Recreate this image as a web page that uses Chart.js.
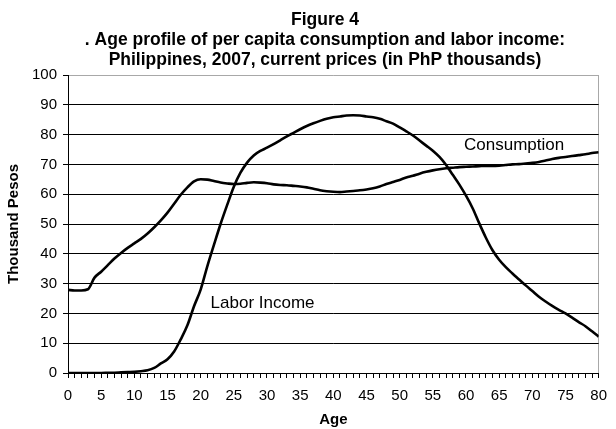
<!DOCTYPE html>
<html>
<head>
<meta charset="utf-8">
<script src="https://cdn.jsdelivr.net/npm/chart.js@4.4.0/dist/chart.umd.min.js"></script>
<style>
    html, body { margin: 0; padding: 0; background: #fff; }
    #wrap { width: 616px; height: 429px; }
</style>
</head>
<body>
<div id="wrap"><canvas id="chart" width="616" height="429"></canvas></div>
<script>
// Age 0..80
const ages = [];
for (let a = 0; a <= 80; a++) ages.push(a);

const consumption = [
    27.9, 27.7, 27.7, 28.1, 32.0, 34.0, 36.2, 38.4, 40.3, 42.0,
    43.5, 45.0, 46.8, 48.9, 51.2, 53.8, 56.8, 59.8, 62.3, 64.3,
    65.0, 64.9, 64.4, 63.9, 63.6, 63.4, 63.5, 63.8, 64.0, 63.9,
    63.7, 63.3, 63.1, 63.0, 62.8, 62.6, 62.3, 61.8, 61.3, 61.0,
    60.8, 60.7, 60.9, 61.1, 61.3, 61.6, 62.0, 62.6, 63.4, 64.1,
    64.8, 65.6, 66.2, 66.9, 67.5, 68.0, 68.4, 68.7, 68.9, 69.1,
    69.2, 69.3, 69.4, 69.5, 69.5, 69.6, 69.8, 70.0, 70.1, 70.3,
    70.5, 70.8, 71.3, 71.8, 72.2, 72.5, 72.8, 73.1, 73.4, 73.8,
    74.1
];

const laborIncome = [
    0.0, 0.0, 0.0, 0.0, 0.0, 0.0, 0.05, 0.1, 0.2, 0.3,
    0.4, 0.6, 0.9, 1.7, 3.2, 4.6, 7.2, 11.3, 16.0, 22.4,
    28.0, 35.8, 43.0, 50.0, 56.4, 62.5, 67.2, 70.6, 73.0, 74.5,
    75.6, 76.8, 78.1, 79.4, 80.6, 81.8, 82.9, 83.8, 84.6, 85.3,
    85.8, 86.1, 86.4, 86.5, 86.4, 86.1, 85.8, 85.3, 84.5, 83.7,
    82.4, 81.1, 79.7, 78.0, 76.3, 74.6, 72.5, 69.8, 66.5, 63.2,
    59.5, 55.3, 50.2, 45.4, 41.2, 38.0, 35.5, 33.4, 31.4, 29.4,
    27.5, 25.6, 24.0, 22.5, 21.2, 20.0, 18.6, 17.1, 15.7, 14.0,
    12.2
];

const titleLines = [
    'Figure 4',
    '. Age profile of per capita consumption and labor income:',
    'Philippines, 2007, current prices (in PhP thousands)'
];

// series labels placed inside the plot: [text, age, value]
const seriesLabels = [
    ['Consumption', 59.7, 76.5],
    ['Labor Income', 21.5, 23.5]
];

const FONT = 'Arial, "Liberation Sans", sans-serif';

const toPoints = (vals) => vals.map((v, i) => ({ x: ages[i], y: v }));

const textPlugin = {
    id: 'textPlugin',
    afterDraw(chart) {
        const ctx = chart.ctx;
        const xs = chart.scales.x;
        const ys = chart.scales.y;
        ctx.save();
        ctx.fillStyle = '#000';
        ctx.textAlign = 'center';
        ctx.textBaseline = 'middle';
        ctx.font = 'bold 17.5px ' + FONT;
        titleLines.forEach((t, i) => {
            ctx.fillText(t, 325, 20 + i * 20);
        });
        ctx.font = '17px ' + FONT;
        ctx.textAlign = 'left';
        seriesLabels.forEach(([t, a, v]) => {
            ctx.fillText(t, xs.getPixelForValue(a), ys.getPixelForValue(v));
        });
        ctx.restore();
    }
};

new Chart(document.getElementById('chart'), {
    type: 'line',
    data: {
        datasets: [
            {
                label: 'Consumption',
                data: toPoints(consumption),
                borderColor: '#000',
                borderWidth: 2.6,
                pointRadius: 0,
                cubicInterpolationMode: 'monotone'
            },
            {
                label: 'Labor Income',
                data: toPoints(laborIncome),
                borderColor: '#000',
                borderWidth: 2.6,
                pointRadius: 0,
                cubicInterpolationMode: 'monotone'
            }
        ]
    },
    options: {
        responsive: false,
        animation: false,
        layout: {
            padding: { top: 75, left: 0, right: 9, bottom: 0 }
        },
        plugins: {
            legend: { display: false },
            title: { display: false },
            tooltip: { enabled: false }
        },
        scales: {
            x: {
                type: 'linear',
                min: 0,
                max: 80,
                afterFit: (s) => { s.height = 56; },
                ticks: {
                    stepSize: 1,
                    autoSkip: false,
                    maxRotation: 0,
                    padding: 9,
                    color: '#000',
                    font: { family: FONT, size: 15 },
                    callback: (v) => (v % 5 === 0 ? v : '')
                },
                grid: {
                    drawOnChartArea: true,
                    color: (c) => (c.tick && c.tick.value === 80 ? '#a8a8a8' : 'rgba(0,0,0,0)'),
                    tickColor: '#000',
                    tickLength: 5,
                    lineWidth: 1
                },
                border: { color: '#000', width: 1 },
                title: {
                    display: true,
                    text: 'Age',
                    color: '#000',
                    font: { family: FONT, size: 15, weight: 'bold' },
                    padding: { top: 0, bottom: 0 }
                }
            },
            y: {
                min: 0,
                max: 100,
                afterFit: (s) => { s.width = 68; },
                ticks: {
                    stepSize: 10,
                    padding: 6,
                    color: '#000',
                    font: { family: FONT, size: 15 }
                },
                grid: {
                    color: (c) => (c.tick && c.tick.value === 100 ? '#a8a8a8' : '#000'),
                    tickColor: '#000',
                    tickLength: 5,
                    lineWidth: 1
                },
                border: { color: '#000', width: 1 },
                title: {
                    display: true,
                    text: 'Thousand Pesos',
                    color: '#000',
                    font: { family: FONT, size: 15, weight: 'bold' },
                    padding: { top: 5, bottom: 0 }
                }
            }
        }
    },
    plugins: [textPlugin]
});
</script>
</body>
</html>
